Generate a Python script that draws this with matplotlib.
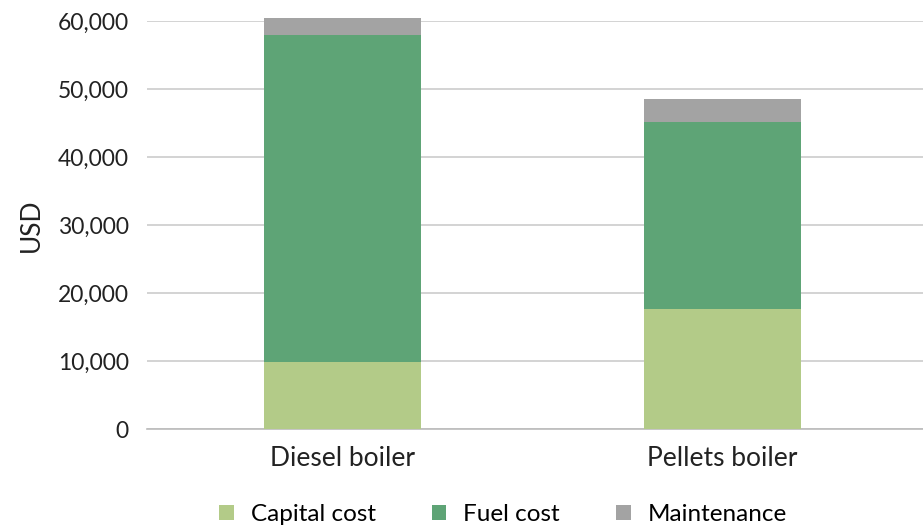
import matplotlib
matplotlib.use("Agg")
import matplotlib.pyplot as plt
import numpy as np
from matplotlib.patches import Patch

categories = ["Diesel boiler", "Pellets boiler"]
capital_cost = [9850, 17650]
fuel_cost = [48100, 27500]
maintenance = [2500, 3350]
series_names = ["Capital cost", "Fuel cost", "Maintenance"]
colors = ["#b3cb88", "#5ea476", "#a3a3a3"]
yticks = [0, 10000, 20000, 30000, 40000, 50000, 60000]

plt.rcParams['font.family'] = ['Lato', 'DejaVu Sans']

fig = plt.figure(figsize=(9.23, 5.30), dpi=100)
ax = fig.add_axes([147/923, 101/530, 776/923, 408/530])

x = np.arange(len(categories))
w = 0.413
bottom = np.zeros(len(categories))
for vals, c, name in zip([capital_cost, fuel_cost, maintenance], colors, series_names):
    ax.bar(x, vals, w, bottom=bottom, color=c, label=name, clip_on=False, zorder=3)
    bottom += np.array(vals)

ax.set_xlim(-0.514, 1.528)
ax.set_ylim(0, 60000)
ax.set_yticks(yticks)
ax.set_yticklabels([f"{v:,}" for v in yticks], fontsize=16.5, color="#222222")
ax.yaxis.grid(True, color="#cccccc", linewidth=1.2, zorder=0)
ax.set_axisbelow(True)
for s in ["top", "right", "left"]:
    ax.spines[s].set_visible(False)
ax.spines["bottom"].set_color("#bbbbbb")
ax.spines["bottom"].set_linewidth(1.2)
ax.tick_params(axis="y", length=0, pad=13)
ax.tick_params(axis="x", length=0, pad=12)
ax.set_xticks(x)
ax.set_xticklabels(categories, fontsize=19, color="#222222")
ax.set_ylabel("USD", fontsize=19, color="#222222", labelpad=10)

handles = [Patch(facecolor=c, label=n) for c, n in zip(colors, series_names)]
fig.legend(handles=handles, loc="center", bbox_to_anchor=(0.545, 0.029), ncol=3,
           frameon=False, fontsize=17.5, handlelength=0.6, handleheight=0.6,
           columnspacing=2.3, handletextpad=0.7)

fig.savefig("out.png", dpi=100)
